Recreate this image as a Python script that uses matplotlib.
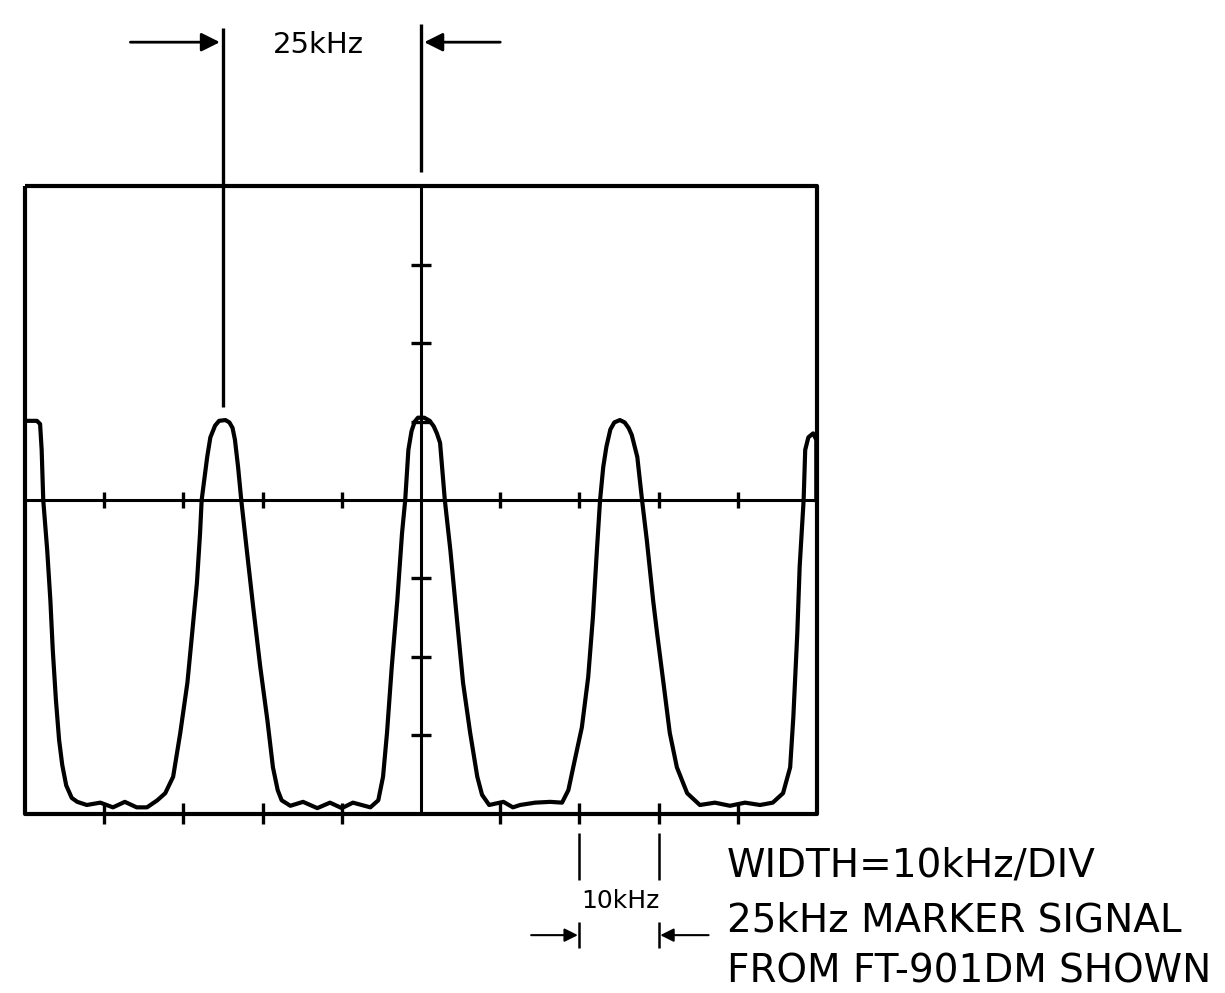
import matplotlib
matplotlib.use('Agg')
import matplotlib.pyplot as plt

# trace: x in kHz (10 kHz/div), y in divisions
trace_khz = [-49.7, -48.5, -48.1, -47.9, -47.7, -47.2, -46.8, -46.5, -46.1, -45.7,
             -45.3, -44.8, -44.1, -43.4, -42.2, -40.5, -38.9, -37.4, -35.9, -34.6,
             -33.3, -32.3, -31.3, -30.4, -29.5, -28.9, -28.3, -27.9, -27.7, -27.0,
             -26.6, -26.0, -25.5, -24.7, -24.2, -23.8, -23.5, -23.1, -22.7, -22.0,
             -21.2, -20.3, -19.4, -18.7, -18.1, -17.6, -16.5, -14.9, -13.1, -11.5,
             -10.0, -8.6, -6.4, -5.4, -4.8, -4.3, -3.7, -3.0, -2.4, -2.0,
             -1.6, -1.2, -0.8, -0.4, 0.4, 1.1, 1.6, 2.0, 2.4, 3.0,
             3.7, 4.5, 5.3, 6.2, 7.1, 7.7, 8.6, 10.4, 11.6, 12.5,
             14.4, 16.3, 17.8, 18.6, 19.4, 20.3, 21.1, 21.7, 22.2, 22.6,
             23.0, 23.4, 23.9, 24.4, 25.1, 25.7, 26.2, 26.6, 27.3, 27.9,
             28.5, 29.3, 29.8, 30.6, 31.4, 32.3, 33.6, 35.2, 37.1, 39.0,
             40.9, 42.8, 44.4, 45.7, 46.6, 47.0, 47.5, 47.8, 48.3, 48.5,
             48.9, 49.5, 49.9, 49.9]
trace_div = [1.01, 1.01, 0.97, 0.64, 0.0, -0.64, -1.28, -1.91, -2.55, -3.06,
             -3.38, -3.64, -3.80, -3.85, -3.89, -3.86, -3.92, -3.85, -3.92, -3.92,
             -3.83, -3.74, -3.53, -2.97, -2.33, -1.70, -1.06, -0.42, 0.0, 0.55,
             0.80, 0.95, 1.01, 1.02, 0.99, 0.92, 0.77, 0.42, 0.0, -0.64,
             -1.36, -2.13, -2.81, -3.41, -3.70, -3.83, -3.90, -3.85, -3.93, -3.86,
             -3.93, -3.86, -3.92, -3.83, -3.53, -2.97, -2.13, -1.28, -0.42, 0.0,
             0.64, 0.88, 1.00, 1.05, 1.05, 1.01, 0.94, 0.85, 0.73, 0.0,
             -0.64, -1.49, -2.33, -2.97, -3.53, -3.76, -3.89, -3.85, -3.92, -3.89,
             -3.86, -3.85, -3.86, -3.70, -3.32, -2.90, -2.26, -1.49, -0.64, 0.0,
             0.42, 0.68, 0.90, 0.99, 1.02, 0.99, 0.92, 0.83, 0.55, 0.0,
             -0.51, -1.28, -1.70, -2.33, -2.97, -3.41, -3.74, -3.89, -3.86, -3.90,
             -3.86, -3.89, -3.86, -3.74, -3.41, -2.77, -1.70, -0.85, 0.0, 0.64,
             0.80, 0.85, 0.77, 0.0]

x_ticks = [-40, -30, -20, -10, 10, 20, 30, 40]
y_ticks = [-3, -2, -1, 1, 2, 3]
markers = [-25, 0]          # 25 kHz marker positions
span = [20, 30]             # 10 kHz bracket under the screen

title_25 = '25kHz'
label_10 = '10kHz'
notes = ['WIDTH=10kHz/DIV', '25kHz MARKER SIGNAL', 'FROM FT-901DM SHOWN']

FONT = ['DejaVu Sans']

fig = plt.figure(figsize=(12.25, 9.93), dpi=100)
ax = fig.add_axes([0, 0, 1, 1])
ax.set_xlim(-53.16, 101.5)
ax.set_ylim(-6.288, 6.378)
ax.axis('off')

k = dict(color='black', solid_capstyle='butt')

# screen frame and graticule
ax.plot([-50, 50, 50, -50, -50], [4, 4, -4, -4, 4], lw=3, **k)
ax.plot([-50, 50], [0, 0], lw=2.2, **k)
ax.plot([0, 0], [-4, 4], lw=2.2, **k)
for x in x_ticks:
    ax.plot([x, x], [-0.1, 0.1], lw=2.4, **k)
    ax.plot([x, x], [-3.87, -4.13], lw=2.4, **k)
for y in y_ticks:
    ax.plot([-1.3, 1.3], [y, y], lw=2.4, **k)

# trace
ax.plot(trace_khz, trace_div, lw=3, color='black', solid_joinstyle='round')

# 25 kHz marker lines above the screen
ax.plot([markers[0], markers[0]], [1.19, 6.02], lw=2.4, **k)
ax.plot([markers[1], markers[1]], [4.18, 6.07], lw=2.4, **k)
ap = dict(arrowstyle='-|>', color='black', lw=2, mutation_scale=28, shrinkA=0, shrinkB=0)
ax.annotate('', xy=(markers[0] - 0.4, 5.84), xytext=(-36.7, 5.84), arrowprops=ap)
ax.annotate('', xy=(markers[1] + 0.4, 5.84), xytext=(10.0, 5.84), arrowprops=ap)
ax.text(-13.0, 5.80, title_25, family=FONT, fontsize=21, ha='center', va='center')

# 10 kHz bracket
for x in span:
    ax.plot([x, x], [-4.25, -4.85], lw=1.8, **k)
    ax.plot([x, x], [-5.38, -5.71], lw=1.8, **k)
ap2 = dict(arrowstyle='-|>', color='black', lw=1.5, mutation_scale=20, shrinkA=0, shrinkB=0)
ax.annotate('', xy=(span[0] - 0.2, -5.55), xytext=(13.9, -5.55), arrowprops=ap2)
ax.annotate('', xy=(span[1] + 0.2, -5.55), xytext=(36.3, -5.55), arrowprops=ap2)
ax.text(25.2, -5.12, label_10, family=FONT, fontsize=18, ha='center', va='center')

for i, s in enumerate(notes):
    ax.text(38.6, [-4.66, -5.36, -6.02][i], s, family=FONT, fontsize=28,
            ha='left', va='center')

fig.savefig('out.png', dpi=100, facecolor='white')
